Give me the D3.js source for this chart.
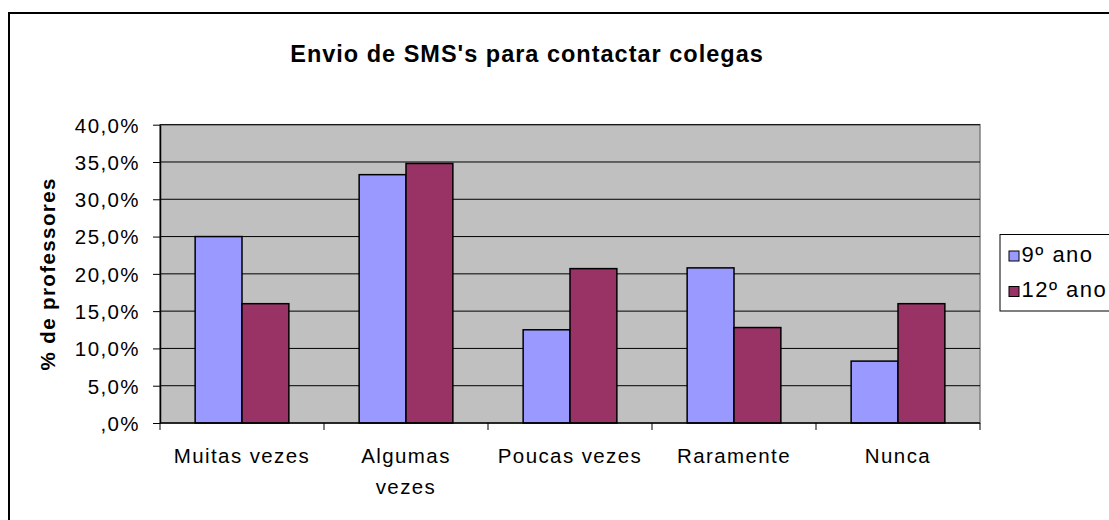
<!DOCTYPE html>
<html>
<head>
<meta charset="utf-8">
<script src="https://cdn.jsdelivr.net/npm/d3@7/dist/d3.min.js"></script>
<style>
  html, body { margin: 0; padding: 0; background: #fff; }
  svg { display: block; font-family: "Liberation Sans", Arial, sans-serif; }
</style>
</head>
<body>
<svg id="chart" width="1109" height="520"></svg>
<script>
// Survey answers: share of teachers who send SMS to contact colleagues
const categories = ["Muitas vezes", "Algumas vezes", "Poucas vezes", "Raramente", "Nunca"];
const seriesNames = ["9º ano", "12º ano"];
const ano9 = [25.0, 33.3, 12.5, 20.8, 8.3];
const ano12 = [16.0, 34.8, 20.7, 12.8, 16.0];
const yTicks = [0, 5, 10, 15, 20, 25, 30, 35, 40];
const colors = ["#9999FF", "#993366"];

const svg = d3.select("#chart");
const plot = { left: 160, top: 124.7, right: 980, bottom: 423 };
const FS = 20.5, LS = 1.4;

// Outer chart frame
svg.append("rect")
  .attr("x", 9).attr("y", 13).attr("width", 1130).attr("height", 530)
  .attr("fill", "#fff").attr("stroke", "#000").attr("stroke-width", 2);

// Title
svg.append("text")
  .attr("x", 527).attr("y", 62)
  .attr("text-anchor", "middle")
  .attr("font-size", 23.5).attr("font-weight", "bold")
  .attr("letter-spacing", 1)
  .text("Envio de SMS's para contactar colegas");

const x0 = d3.scaleBand().domain(categories).range([plot.left, plot.right]).paddingInner(0).paddingOuter(0);
// Gap width 150%: two bars take 2/3.5 of each category slot
const x1 = d3.scaleBand().domain(seriesNames).range([0, x0.bandwidth() * 2 / 3.5]);
const y = d3.scaleLinear().domain([0, 40]).range([plot.bottom, plot.top]);

// Plot background
svg.append("rect")
  .attr("x", plot.left).attr("y", plot.top)
  .attr("width", plot.right - plot.left).attr("height", plot.bottom - plot.top)
  .attr("fill", "#C0C0C0").attr("stroke", "#808080").attr("stroke-width", 1.5);

// Gridlines
svg.append("g").selectAll("line")
  .data(yTicks.filter(t => t > 0))
  .join("line")
  .attr("x1", plot.left).attr("x2", plot.right)
  .attr("y1", d => y(d)).attr("y2", d => y(d))
  .attr("stroke", "#000").attr("stroke-width", 1);

// Bars
const rows = categories.map((c, i) => ({ cat: c, values: [ano9[i], ano12[i]] }));
const groupOffset = (x0.bandwidth() - x1.range()[1]) / 2;
const groups = svg.append("g").selectAll("g")
  .data(rows).join("g")
  .attr("transform", d => `translate(${x0(d.cat) + groupOffset},0)`);
groups.selectAll("rect")
  .data(d => d.values.map((v, j) => ({ name: seriesNames[j], v, j })))
  .join("rect")
  .attr("x", d => x1(d.name))
  .attr("y", d => y(d.v))
  .attr("width", x1.bandwidth())
  .attr("height", d => y(0) - y(d.v))
  .attr("fill", d => colors[d.j])
  .attr("stroke", "#000").attr("stroke-width", 1.5);

// Y axis
const fmt = v => v === 0 ? ",0%" : d3.format(".1f")(v).replace(".", ",") + "%";
const yAxis = svg.append("g")
  .attr("transform", `translate(${plot.left},0)`)
  .call(d3.axisLeft(y).tickValues(yTicks).tickFormat(fmt).tickSizeOuter(0).tickSizeInner(7).tickPadding(13));
yAxis.select(".domain").attr("stroke", "#000").attr("stroke-width", 1.5);
yAxis.selectAll(".tick line").attr("stroke", "#000");
yAxis.selectAll("text")
  .attr("font-size", FS).attr("letter-spacing", LS).attr("fill", "#000")
  .attr("font-family", "'Liberation Sans', Arial, sans-serif")
  .attr("dy", "0.36em");

// X axis with ticks at category boundaries
const xAxisG = svg.append("g").attr("transform", `translate(0,${plot.bottom})`);
xAxisG.append("line")
  .attr("x1", plot.left).attr("x2", plot.right)
  .attr("stroke", "#000").attr("stroke-width", 1.5);
const boundaries = categories.map(c => x0(c)).concat([plot.right]);
xAxisG.selectAll(".bt").data(boundaries).join("line")
  .attr("class", "bt")
  .attr("x1", d => d).attr("x2", d => d)
  .attr("y1", 0).attr("y2", 7)
  .attr("stroke", "#000").attr("stroke-width", 1);

// Category labels (wrapped like the original)
const labelLines = { "Algumas vezes": ["Algumas", "vezes"] };
xAxisG.selectAll(".cl").data(categories).join("text")
  .attr("class", "cl")
  .attr("text-anchor", "middle")
  .attr("font-size", FS).attr("letter-spacing", LS)
  .each(function (d) {
    const lines = labelLines[d] || [d];
    const t = d3.select(this);
    lines.forEach((ln, i) => {
      t.append("tspan")
        .attr("x", x0(d) + x0.bandwidth() / 2)
        .attr("y", 40 + i * 31)
        .text(ln);
    });
  });

// Y axis title
svg.append("text")
  .attr("transform", `translate(55,${(plot.top + plot.bottom) / 2}) rotate(-90)`)
  .attr("text-anchor", "middle")
  .attr("font-size", FS).attr("font-weight", "bold").attr("letter-spacing", LS)
  .text("% de professores");

// Legend
const legend = svg.append("g");
legend.append("rect")
  .attr("x", 1000).attr("y", 234.5).attr("width", 130).attr("height", 76.5)
  .attr("fill", "#fff").attr("stroke", "#000").attr("stroke-width", 1);
const li = legend.selectAll(".li").data(seriesNames).join("g")
  .attr("class", "li")
  .attr("transform", (d, i) => `translate(1009,${261.5 + i * 35.5})`);
li.append("rect")
  .attr("x", 0).attr("y", -10.5).attr("width", 10).attr("height", 10)
  .attr("fill", (d, i) => colors[i]).attr("stroke", "#000").attr("stroke-width", 1);
li.append("text")
  .attr("x", 12.5).attr("y", 0)
  .attr("font-size", 22).attr("letter-spacing", 1.5)
  .text(d => d);
</script>
</body>
</html>
